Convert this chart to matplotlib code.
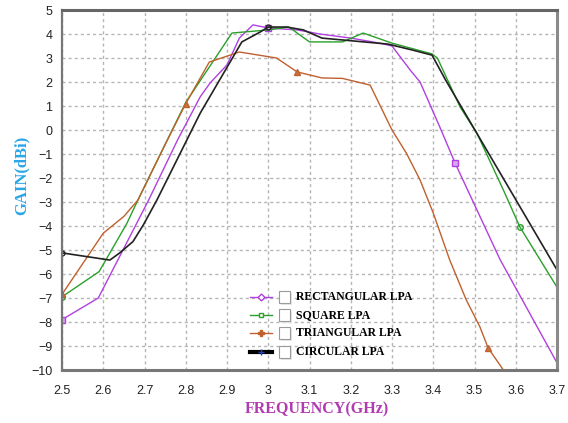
import matplotlib
matplotlib.use("Agg")
import matplotlib.pyplot as plt
from matplotlib.lines import Line2D
from matplotlib.patches import Rectangle

# Gain vs frequency for four log-periodic antenna shapes
rect_freq = [2.5, 2.588, 2.71, 2.78, 2.835, 2.859, 2.9, 2.93, 2.963, 3.0, 3.07,
             3.125, 3.2, 3.27, 3.30, 3.344, 3.368, 3.416, 3.453, 3.562, 3.7]
rect_gain = [-7.9, -7.0, -2.92, -0.42, 1.38, 1.96, 2.71, 3.83, 4.38, 4.25, 4.17,
             4.0, 3.83, 3.62, 3.5, 2.5, 2.0, 0.12, -1.38, -5.4, -9.7]

square_freq = [2.5, 2.59, 2.657, 2.684, 2.8, 2.912, 3.0, 3.05, 3.1, 3.18, 3.23,
               3.3, 3.397, 3.41, 3.465, 3.506, 3.57, 3.61, 3.7]
square_gain = [-6.95, -5.9, -3.9, -2.92, 1.15, 4.04, 4.17, 4.29, 3.67, 3.67, 4.04,
               3.62, 3.17, 3.0, 0.96, -0.14, -2.5, -4.04, -6.55]

tri_freq = [2.5, 2.6, 2.65, 2.684, 2.75, 2.8, 2.857, 2.93, 3.02, 3.07, 3.13, 3.18,
            3.247, 3.3, 3.335, 3.368, 3.40, 3.44, 3.48, 3.513, 3.533, 3.57]
tri_gain = [-6.85, -4.3, -3.6, -2.92, -0.6, 1.1, 2.83, 3.25, 3.0, 2.42, 2.17, 2.15,
            1.87, 0.0, -0.97, -2.08, -3.46, -5.42, -7.08, -8.2, -9.08, -10.0]

circ_freq = [2.5, 2.616, 2.64, 2.672, 2.697, 2.73, 2.835, 2.936, 2.98, 3.0, 3.045,
             3.085, 3.13, 3.2, 3.29, 3.35, 3.397, 3.43, 3.7]
circ_gain = [-5.12, -5.42, -5.12, -4.65, -3.96, -2.92, 0.7, 3.67, 4.08, 4.29, 4.29,
             4.17, 3.83, 3.72, 3.58, 3.33, 3.12, 2.08, -5.83]

x_ticks = [2.5, 2.6, 2.7, 2.8, 2.9, 3.0, 3.1, 3.2, 3.3, 3.4, 3.5, 3.6, 3.7]
x_tick_labels = ["2.5", "2.6", "2.7", "2.8", "2.9", "3", "3.1", "3.2", "3.3",
                 "3.4", "3.5", "3.6", "3.7"]
y_ticks = list(range(-10, 6))

series_names = ["RECTANGULAR LPA", "SQUARE LPA", "TRIANGULAR LPA", "CIRCULAR LPA"]

c_rect = "#b040e0"
c_square = "#2aa02a"
c_tri = "#c0602e"
c_circ = "#222222"

fig = plt.figure(figsize=(5.68, 4.23), dpi=100)
ax = fig.add_axes([62 / 568, 53 / 423, 495 / 568, 360 / 423])

ax.plot(rect_freq, rect_gain, color=c_rect, lw=1.0, marker="s", ms=4,
        mfc="#d9a6f0", mec=c_rect, markevery=[0, 9, 18])
ax.plot(square_freq, square_gain, color=c_square, lw=1.0, marker="o", ms=4,
        mfc="none", mec=c_square, markevery=[0, 17])
ax.plot(tri_freq, tri_gain, color=c_tri, lw=1.0, marker="^", ms=4.5,
        mfc="#d07040", mec=c_tri, markevery=[0, 5, 9, 20])
ax.plot(circ_freq, circ_gain, color=c_circ, lw=1.2, marker="o", ms=3.5,
        mfc="none", mec=c_circ, markevery=[0, 9])

ax.set_xlim(2.5, 3.7)
ax.set_ylim(-10, 5)
ax.set_xticks(x_ticks)
ax.set_xticklabels(x_tick_labels)
ax.set_yticks(y_ticks)

ax.grid(True, color="#b5b5b5", lw=1.0, linestyle=(0, (2.2, 2.2)))
ax.set_axisbelow(True)
ax.tick_params(axis="both", length=0, labelsize=9, colors="#222222")
ax.tick_params(axis="x", pad=11)
ax.tick_params(axis="y", pad=7)
for lab in ax.get_xticklabels() + ax.get_yticklabels():
    lab.set_family("Liberation Sans")

for side, lw, col in [("top", 2.2, "#666666"), ("right", 2.2, "#8a8a8a"),
                      ("bottom", 2.2, "#777777"), ("left", 1.6, "#777777")]:
    ax.spines[side].set_linewidth(lw)
    ax.spines[side].set_color(col)

ax.set_xlabel("FREQUENCY(GHz)", family="Liberation Serif", weight="bold",
              fontsize=11.5, color="#b03cb0")
ax.set_ylabel("GAIN(dBi)", family="Liberation Serif", weight="bold",
              fontsize=12, color="#2aa6e6")
ax.yaxis.set_label_coords(-0.066, 0.54)
ax.xaxis.set_label_coords(0.515, -0.088)

# Legend: line sample, check box and name for each series
handles = [
    dict(color=c_rect, lw=1.0, marker="D", ms=3.5, mfc="white", mec=c_rect),
    dict(color=c_square, lw=1.0, marker="s", ms=3, mfc="white", mec=c_square),
    dict(color=c_tri, lw=1.0, marker="P", ms=4, mfc=c_tri, mec=c_tri),
    dict(color="black", lw=3.0, marker="+", ms=4, mfc="#2040c0", mec="#2040c0"),
]
row_y = [297, 315, 333, 352]
for name, style, py in zip(series_names, handles, row_y):
    yf = (370 - py) / 360
    x0, x1 = (250 - 62) / 495, (272 - 62) / 495
    ax.add_line(Line2D([x0, x1], [yf, yf], transform=ax.transAxes,
                       color=style["color"], lw=style["lw"], clip_on=False))
    ax.add_line(Line2D([(x0 + x1) / 2], [yf], transform=ax.transAxes,
                       marker=style["marker"], ms=style["ms"], mfc=style["mfc"],
                       mec=style["mec"], lw=0, clip_on=False))
    bx, bw = (279 - 62) / 495, 11 / 495
    by, bh = (370 - py - 6) / 360, 12 / 360
    ax.add_patch(Rectangle((bx + 1.5 / 495, by - 1.5 / 360), bw, bh,
                           transform=ax.transAxes, fc="#e6e6e6", ec="none",
                           clip_on=False))
    ax.add_patch(Rectangle((bx, by), bw, bh, transform=ax.transAxes,
                           fc="white", ec="#9a9a9a", lw=0.8, clip_on=False))
    ax.text((296 - 62) / 495, yf, name, transform=ax.transAxes,
            family="Liberation Serif", weight="bold", fontsize=8.5,
            va="center", ha="left", color="black")

fig.savefig("out.png", dpi=100)
